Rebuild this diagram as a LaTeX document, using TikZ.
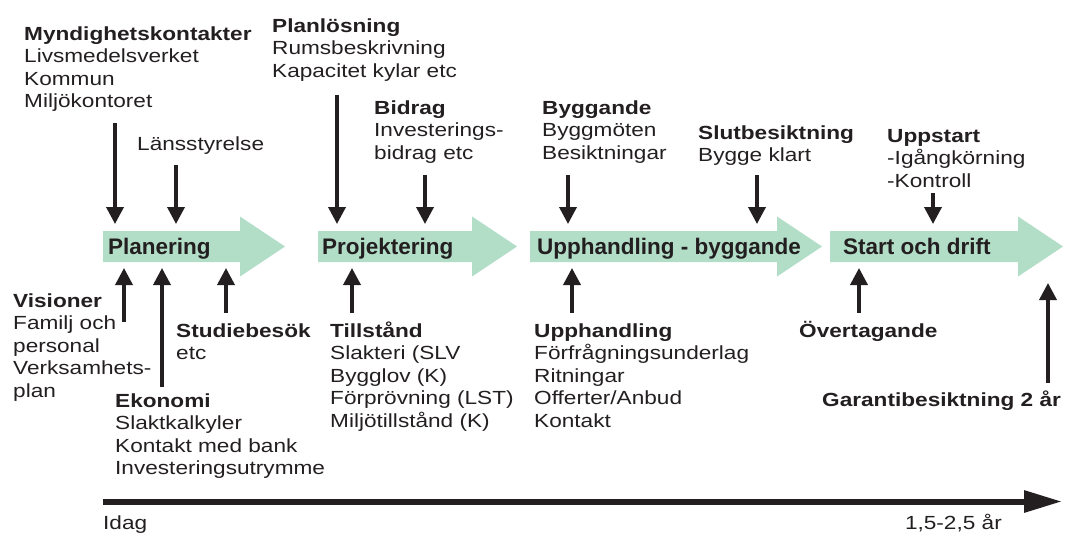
\documentclass[tikz,border=0pt]{standalone}
\usepackage{fontspec}
\setmainfont{Liberation Sans}[FakeStretch=1.19]
\newfontfamily\phasefont{Liberation Sans}
\usetikzlibrary{arrows.meta}
\definecolor{phasegreen}{RGB}{178,221,199}
\definecolor{ink}{RGB}{35,31,32}
\newcommand{\tl}[1]{\begin{tabular}[t]{@{}l@{}}#1\end{tabular}}
\begin{document}
\begin{tikzpicture}[x=1pt,y=-1pt,
  txt/.style={inner sep=0pt,anchor=base west,text=ink,font=\fontsize{19}{22.5}\selectfont},
  phaselabel/.style={inner sep=0pt,anchor=base west,text=ink,font=\phasefont\fontsize{22.5}{24}\selectfont\bfseries},
  down/.style={draw=ink,line width=3.6pt,-{Triangle[width=17pt,length=17pt]}},
  up/.style={draw=ink,line width=3.6pt,-{Triangle[width=17pt,length=17pt]}},
  timeline/.style={draw=ink,line width=6pt,-{Triangle[width=21pt,length=38pt]}}]
\useasboundingbox (0,0) rectangle (1065,533);
% phase arrows
\foreach \xa/\xb/\xt in {103/240/285, 318/472/517, 530/777/822, 830/1018/1063}{
  \fill[phasegreen] (\xa,231) -- (\xb,231) -- (\xb,216.5) -- (\xt,246.5) -- (\xb,276.5) -- (\xb,262) -- (\xa,262) -- cycle;
}
\node[phaselabel] (planering) at (108,254) {Planering};
\node[phaselabel] (projektering) at (322,254) {Projektering};
\node[phaselabel] (upphandlingbygg) at (537,254) {Upphandling - byggande};
\node[phaselabel] (startdrift) at (843,254) {Start och drift};
% text blocks above
\node[txt] (mynd) at (24,40) {\tl{\textbf{Myndighetskontakter}\\Livsmedelsverket\\Kommun\\Miljökontoret}};
\node[txt] (lans) at (137,150) {Länsstyrelse};
\node[txt] (plan) at (272,32) {\tl{\textbf{Planlösning}\\Rumsbeskrivning\\Kapacitet kylar etc}};
\node[txt] (bidrag) at (374,114) {\tl{\textbf{Bidrag}\\Investerings-\\bidrag etc}};
\node[txt] (byggande) at (542,114) {\tl{\textbf{Byggande}\\Byggmöten\\Besiktningar}};
\node[txt] (slut) at (698,139) {\tl{\textbf{Slutbesiktning}\\Bygge klart}};
\node[txt] (uppstart) at (887,142) {\tl{\textbf{Uppstart}\\-Igångkörning\\-Kontroll}};
% text blocks below
\node[txt] (vision) at (13,307) {\tl{\textbf{Visioner}\\Familj och\\personal\\Verksamhets-\\plan}};
\node[txt] (ekonomi) at (115,407) {\tl{\textbf{Ekonomi}\\Slaktkalkyler\\Kontakt med bank\\Investeringsutrymme}};
\node[txt] (studie) at (176,337) {\tl{\textbf{Studiebesök}\\etc}};
\node[txt] (tillstand) at (330,337) {\tl{\textbf{Tillstånd}\\Slakteri (SLV\\Bygglov (K)\\Förprövning (LST)\\Miljötillstånd (K)}};
\node[txt] (upphandling) at (534,337) {\tl{\textbf{Upphandling}\\Förfrågningsunderlag\\Ritningar\\Offerter/Anbud\\Kontakt}};
\node[txt] (overtag) at (799,337) {\textbf{Övertagande}};
\node[txt] (garanti) at (822,406) {\textbf{Garantibesiktning 2 år}};
% down arrows
\coordinate (d1s) at (115,123); \coordinate (d1e) at (115,224);
\coordinate (d2s) at (176,165); \coordinate (d2e) at (176,224);
\coordinate (d3s) at (337,95);  \coordinate (d3e) at (337,224);
\coordinate (d4s) at (425,175); \coordinate (d4e) at (425,224);
\coordinate (d5s) at (568,175); \coordinate (d5e) at (568,224);
\coordinate (d6s) at (757,175); \coordinate (d6e) at (757,224);
\coordinate (d7s) at (933,193); \coordinate (d7e) at (933,224);
\foreach \i in {1,...,7}{\draw[down] (d\i s) -- (d\i e);}
% up arrows
\coordinate (u1s) at (124,322); \coordinate (u1e) at (124,268);
\coordinate (u2s) at (162,387); \coordinate (u2e) at (162,268);
\coordinate (u3s) at (226,313); \coordinate (u3e) at (226,268);
\coordinate (u4s) at (352,313); \coordinate (u4e) at (352,268);
\coordinate (u5s) at (572,313); \coordinate (u5e) at (572,268);
\coordinate (u6s) at (859,313); \coordinate (u6e) at (859,268);
\coordinate (u7s) at (1048,383); \coordinate (u7e) at (1048,283);
\foreach \i in {1,...,7}{\draw[up] (u\i s) -- (u\i e);}
% timeline
\coordinate (tstart) at (103,501.5);
\coordinate (tend) at (1062,501.5);
\draw[timeline] (tstart) -- (tend);
\node[txt] (idag) at (103,529) {Idag};
\node[txt,anchor=base east] (ar) at (1002,529) {1,5-2,5 år};
\end{tikzpicture}
\end{document}
